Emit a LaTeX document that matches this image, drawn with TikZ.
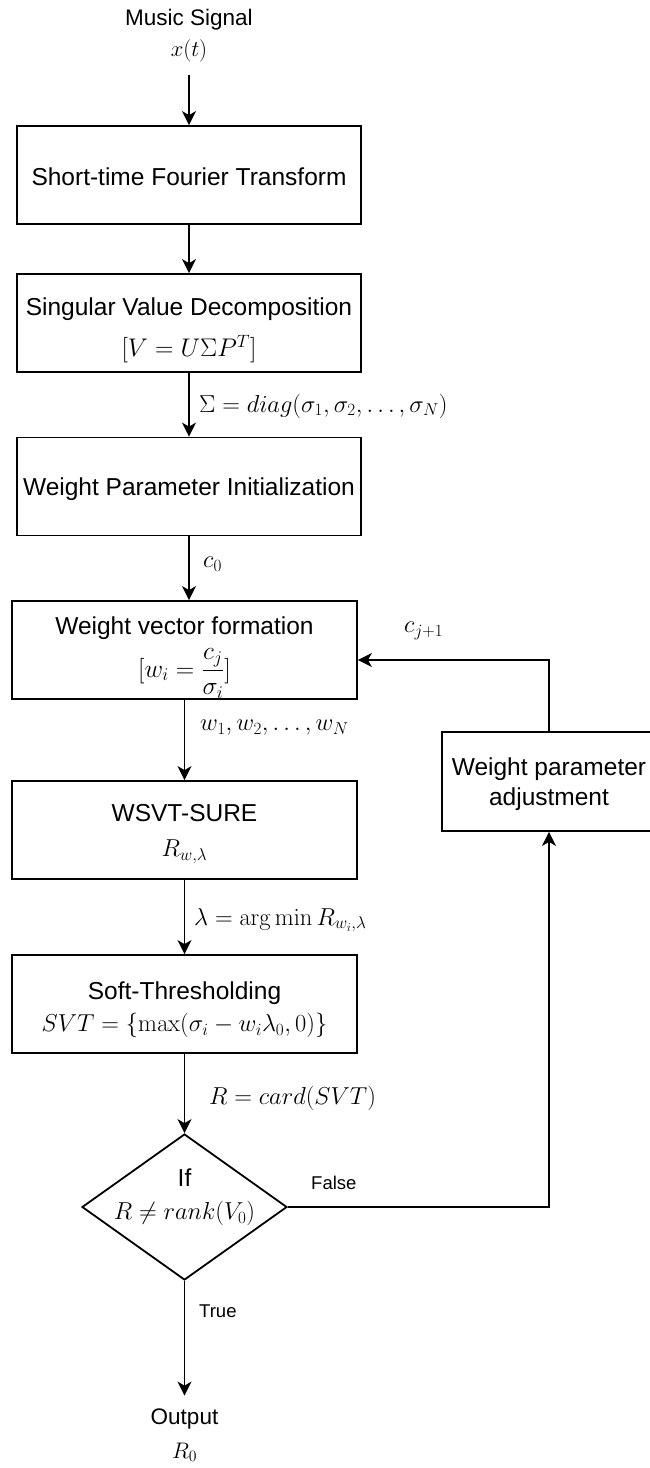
\RequirePackage{fix-cm}
\documentclass[tikz,border=0pt]{standalone}
\usepackage{amsmath}
\usepackage[no-math]{fontspec}
\newfontfamily\arial{Liberation Sans}
\usetikzlibrary{shapes.geometric,arrows.meta,calc}
\newcommand\boxfont{\arial\fontsize{24.5}{29}\selectfont}
\newcommand\bigmath{\fontsize{25.5}{29}\selectfont}
\newcommand\iofont{\arial\fontsize{22.5}{27}\selectfont}
\newcommand\smallfont{\arial\fontsize{18.5}{22}\selectfont}
\newcommand\upstrut[1]{\rule{0pt}{#1}}
\begin{document}
\begin{tikzpicture}[x=1pt,y=-1pt,
  box/.style={draw=black, line width=1.8pt, minimum width=344pt, minimum height=98pt, inner sep=0pt, align=center, font=\boxfont},
  txt/.style={inner sep=0pt, align=center},
  lbl/.style={inner sep=0pt, anchor=west, font=\boxfont},
  arr/.style={line width=1.8pt, -{Stealth[length=14pt,width=14pt,inset=4pt]}},
  decision/.style={draw=black, line width=1.8pt, diamond, minimum width=205pt, minimum height=146pt, inner sep=0pt}]
\useasboundingbox (0,0) rectangle (649,1468);

\node[txt, font=\iofont] (music) at (189,20) {Music Signal};
\node[txt, font=\iofont] (xt) at (189,51) {$x(t)$};
\node[box] (stft) at (189,175) {\upstrut{22pt}Short-time Fourier Transform};
\node[box] (svd) at (189,323) {\upstrut{33pt}Singular Value Decomposition\\[12pt]{\bigmath$[V = U\Sigma P^T]$}};
\node[box] (wpi) at (189,486.5) {\upstrut{24pt}Weight Parameter Initialization};
\node[box, minimum width=345pt] (wvf) at (184.5,650) {\upstrut{33pt}Weight vector formation\\[8pt]{\bigmath$[w_i = \dfrac{c_j}{\sigma_i}]$}};
\node[box, minimum width=345pt] (wsvt) at (184.5,830) {\upstrut{25pt}WSVT-SURE\\[6pt]$R_{w,\lambda}$};
\node[box, minimum width=345pt] (soft) at (184.5,1004) {\upstrut{29pt}Soft-Thresholding\\[3pt]$SVT = \{\max(\sigma_i - w_i\lambda_0, 0)\}$};
\node[decision] (dec) at (184.5,1207) {};
\node[txt, font=\boxfont] (dectxt) at (184.5,1197) {If\\[4pt]$R \neq rank(V_0)$};
\node[box, minimum width=214pt, minimum height=99pt] (wpa) at (549,781.5) {\upstrut{24pt}Weight parameter\\[1pt]adjustment};
\node[txt, font=\iofont] (out) at (184.5,1419) {Output};
\node[txt, font=\iofont] (r0) at (184.5,1452) {$R_0$};

\draw[arr, shorten <=13pt] (xt.south) -- (stft.north);
\draw[arr] (stft) -- (svd);
\draw[arr] (svd) -- (wpi);
\draw[arr] (wpi.south) -- (wpi.south |- wvf.north);
\draw[arr] (wvf.south) -- (wsvt.north);
\draw[arr] (wsvt) -- (soft);
\draw[arr] (soft) -- (dec);
\draw[arr] (dec.east) -| (wpa.south);
\draw[arr] (wpa.north) |- ([yshift=-10pt]wvf.east);
\draw[arr, shorten >=13pt] (dec.south) -- (out.north);

\node[lbl] (lsig) at (199,406) {$\Sigma = diag(\sigma_1, \sigma_2, \ldots, \sigma_N)$};
\node[lbl] (lc0) at (203,564) {$c_0$};
\node[lbl] (lw) at (200,728) {$w_1, w_2, \ldots, w_N$};
\node[lbl] (llam) at (194,920) {$\lambda = \arg\min R_{w_i,\lambda}$};
\node[lbl] (lr) at (209,1098) {$R = card(SVT)$};
\node[lbl] (lc) at (404,631) {$c_{j+1}$};
\node[lbl, font=\smallfont] (lfalse) at (311,1183) {False};
\node[lbl, font=\smallfont] (ltrue) at (199,1311) {True};
\end{tikzpicture}
\end{document}
